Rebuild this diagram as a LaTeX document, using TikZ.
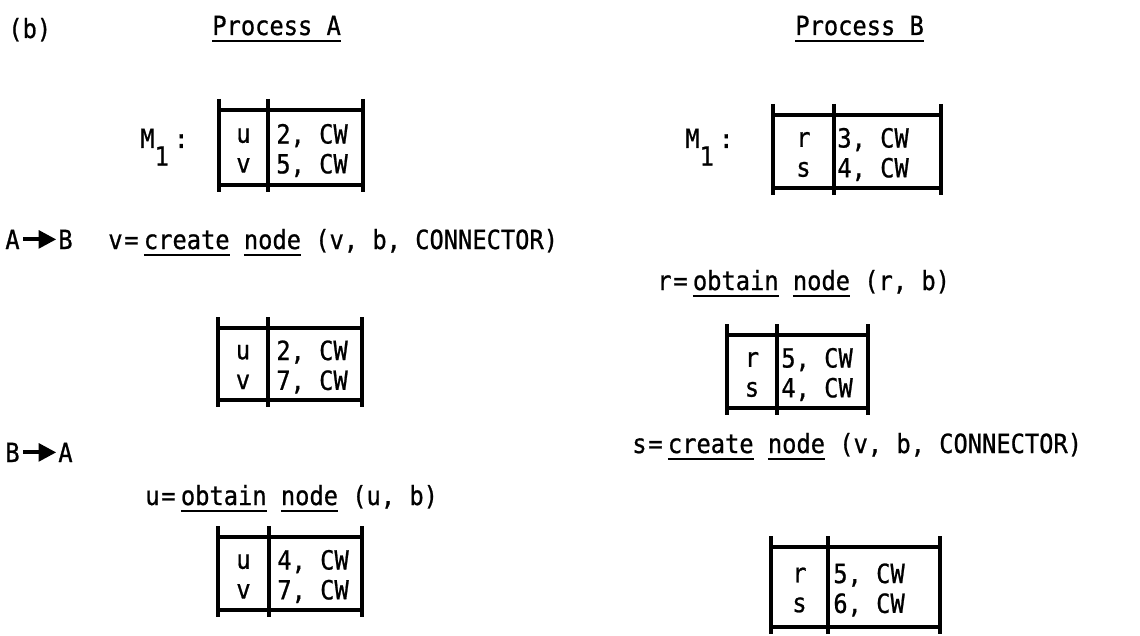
\documentclass[tikz,border=0pt]{standalone}
\usepackage{fontspec}
\setmainfont{DejaVu Sans Mono}[FakeStretch=0.9, FakeBold=0.8]
\usepackage{tikz}
\usetikzlibrary{arrows.meta, positioning}

\tikzstyle{txt} = [anchor=base west, inner sep=0pt, font=\fontsize{15}{17}\selectfont]
\tikzstyle{cell} = [inner sep=0pt, font=\fontsize{15}{17}\selectfont]
\tikzstyle{frame} = [draw, line width=2pt]
\tikzstyle{pass} = [draw, line width=2.2pt, -{Triangle[length=10pt, width=10pt]}, shorten <=2pt, shorten >=1pt]

% underlined word, rule a little below the baseline
\newcommand{\undl}[1]{\setbox0=\hbox{#1}\rlap{\rule[-4.2pt]{\wd0}{1.3pt}}\box0\relax}
\newcommand{\eqs}{\kern1pt=\kern3pt}
\newcommand{\mapname}{M\raisebox{-10pt}{1}\kern3pt:}

% memory table: name, left, top, key width, value width, height, keys, values, gap
\newcommand{\memtab}[9]{
    \draw[frame] (#2,#3) -- ++(#4+#5,0);
    \draw[frame] (#2,#3+#6) -- ++(#4+#5,0);
    \draw[frame] (#2,#3-11) -- (#2,#3+#6+7);
    \draw[frame] (#2+#4,#3-11) -- (#2+#4,#3+#6+7);
    \draw[frame] (#2+#4+#5,#3-11) -- (#2+#4+#5,#3+#6+7);
    \node[cell, align=center] (#1-key) at ({#2+#4/2},{#3+#6/2+3}) {#7};
    \node[cell, align=left, anchor=west] (#1-val) at ({#2+#4+#9},{#3+#6/2+3}) {#8};
}

\begin{document}
\begin{tikzpicture}[x=0.02cm, y=-0.02cm]
    \path[fill=white] (0,0) rectangle (1140,635);
    % Headings
    \node[txt] (label) at (8,38) {(b)};
    \node[txt] (headA) at (212,35) {\undl{Process A}};
    \node[txt] (headB) at (795,35) {\undl{Process B}};
    \node[txt] (mapA) at (140,148) {\mapname};
    \node[txt] (mapB) at (685,148) {\mapname};
    % Tables
    \memtab{tA1}{219}{110}{49}{95}{75}{u\\v}{2, CW\\5, CW}{8}
    \memtab{tB1}{773}{115}{61}{107}{73}{r\\s}{3, CW\\4, CW}{3}
    \memtab{tA2}{218}{328}{50}{94}{72}{u\\v}{2, CW\\7, CW}{8}
    \memtab{tB2}{727}{335}{50}{91}{73}{r\\s}{5, CW\\4, CW}{4}
    \memtab{tA3}{218}{537}{51}{93}{73}{u\\v}{4, CW\\7, CW}{8}
    \memtab{tB3}{771}{547}{57}{112}{80}{r\\s}{5, CW\\6, CW}{5}
    % Messages
    \node[txt] (fromA) at (5,249) {A};
    \node[txt] (toB) at (58,249) {B};
    \node[txt] (fromB) at (5,462) {B};
    \node[txt] (toA) at (58,462) {A};
    \path[pass] (fromA) -- (toB);
    \path[pass] (fromB) -- (toA);
    % Operations
    \node[txt] (opA1) at (108,249) {v\eqs\undl{create} \undl{node} (v, b, CONNECTOR)};
    \node[txt] (opB1) at (657,290) {r\eqs\undl{obtain} \undl{node} (r, b)};
    \node[txt] (opB2) at (632,453) {s\eqs\undl{create} \undl{node} (v, b, CONNECTOR)};
    \node[txt] (opA2) at (145,505) {u\eqs\undl{obtain} \undl{node} (u, b)};
\end{tikzpicture}
\end{document}
